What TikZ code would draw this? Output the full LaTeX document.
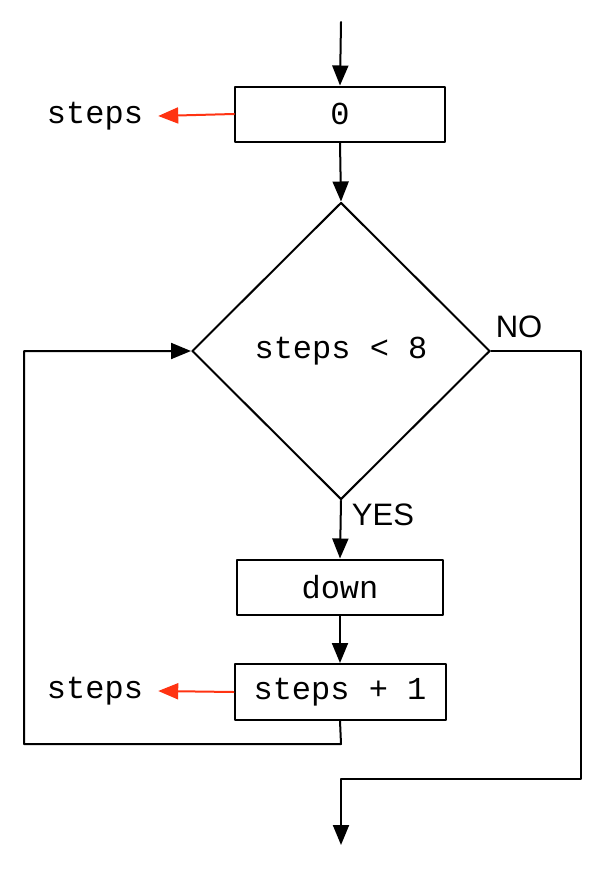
\documentclass[tikz,border=0pt]{standalone}
\usepackage{fontspec}
\setmonofont{Liberation Mono}
\setsansfont{Liberation Sans}
\usetikzlibrary{arrows.meta,shapes.geometric}
\definecolor{fftttt}{rgb}{1.0,0.2,0.07}
\tikzset{
  stepbox/.style={draw,line width=2pt,inner sep=0pt,font=\ttfamily\fontsize{32}{36}\selectfont},
  testbox/.style={draw,diamond,line width=2pt,inner sep=0pt,minimum width=298pt,minimum height=297pt,font=\ttfamily\fontsize{32}{36}\selectfont},
  varname/.style={inner xsep=15pt,font=\ttfamily\fontsize{32}{36}\selectfont},
  answer/.style={font=\sffamily\fontsize{31}{36}\selectfont},
  flow/.style={line width=2pt,->},
  assign/.style={line width=2pt,->,color=fftttt}
}
\begin{document}
\begin{tikzpicture}[line cap=round,line join=round,>={Triangle[length=20pt,width=16pt]},x=1pt,y=-1pt]
\useasboundingbox (0,0) rectangle (604,870);
% boxes
\coordinate (start) at (341,22);
\node[stepbox,minimum width=210pt,minimum height=55pt] (init) at (340,114) {0};
\node[testbox] (test) at (341,351) {steps < 8};
\node[stepbox,minimum width=206pt,minimum height=55pt] (down) at (340,587) {down};
\node[stepbox,minimum width=211pt,minimum height=56pt] (inc) at (340,692) {steps + 1};
\node[varname] (var1) at (95,116) {steps};
\node[varname] (var2) at (95,691) {steps};
% loop and exit corners
\coordinate (loopa) at (341,744);
\coordinate (loopb) at (24,744);
\coordinate (loopc) at (24,351);
\coordinate (exita) at (581,351);
\coordinate (exitb) at (581,779);
\coordinate (exitc) at (341,779);
\coordinate (stop) at (341,845);
% arrows
\draw[flow] (start) -- (init.north);
\draw[flow] (init.south) -- (test.north);
\draw[flow] (test.south) -- (down.north);
\draw[flow] (down.south) -- (inc.north);
\draw[assign] (init.west) -- (var1.east);
\draw[assign] (inc.west) -- (var2.east);
\draw[flow] (inc.south) -- (loopa) -- (loopb) -- (loopc) -- (test.west);
\draw[flow] (test.east) -- (exita) -- (exitb) -- (exitc) -- (stop);
\node[answer] at (519,327) {NO};
\node[answer] at (383,515) {YES};
\end{tikzpicture}
\end{document}
